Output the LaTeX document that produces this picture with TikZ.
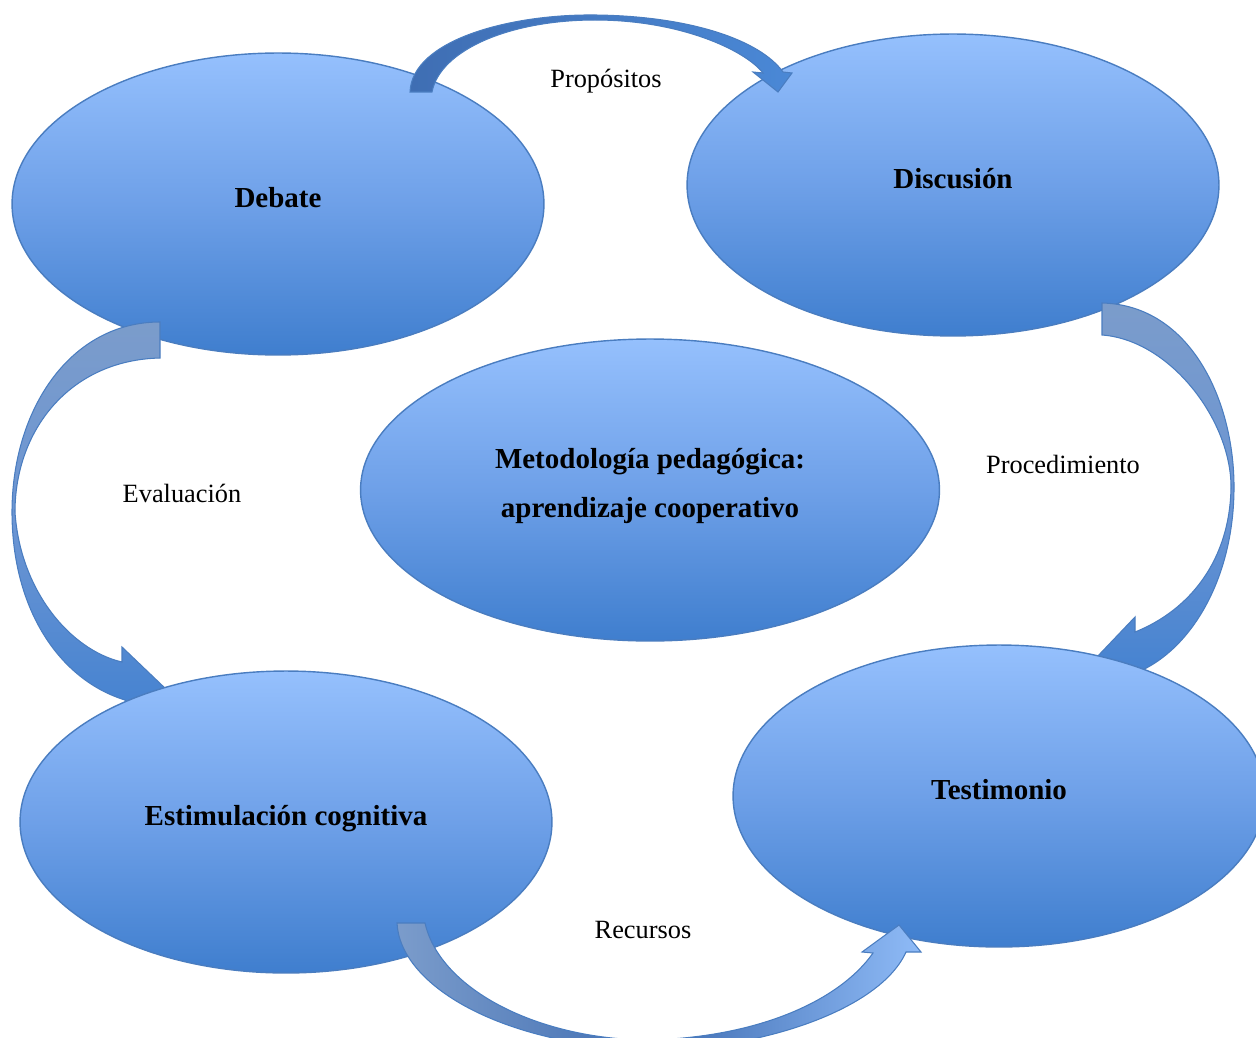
\documentclass[tikz,border=0pt]{standalone}
\usepackage{fontspec}
\setmainfont{Liberation Serif}
\usetikzlibrary{shapes.geometric}
\definecolor{ellTop}{HTML}{95C0FD}
\definecolor{ellMid}{HTML}{6EA0E8}
\definecolor{ellBot}{HTML}{3F7ECE}
\definecolor{edge}{HTML}{4A7DC0}
\definecolor{sideTop}{HTML}{7B9CCB}
\definecolor{sideMid}{HTML}{6B95D3}
\definecolor{sideBot}{HTML}{4080D0}
\definecolor{botMid}{HTML}{3F6DB2}
\definecolor{botRight}{HTML}{8FBBF7}
\definecolor{topLeft}{HTML}{3F6EB3}
\definecolor{topRight}{HTML}{4A88D6}
\tikzset{
  bubble/.style={ellipse, draw=edge, line width=0.8pt, top color=ellTop, bottom color=ellBot, middle color=ellMid, minimum width=10.64cm, minimum height=6.04cm, inner sep=0pt},
  bigbubble/.style={bubble, minimum width=11.58cm},
  title/.style={font=\fontsize{16.5}{28.35}\selectfont\bfseries, align=center, inner sep=0pt},
  lab/.style={font=\fontsize{15}{18}\selectfont, inner sep=0pt},
  band/.style={draw=edge, line width=0.6pt}
}
\begin{document}
\begin{tikzpicture}[x=0.02cm, y=0.02cm]
\useasboundingbox (0,0) rectangle (1256,-1037);
\clip (0,0) rectangle (1256,-1037);

% upper and central bubbles
\node[bubble] (debate) at (278,-204) {};
\node[bubble] (discusion) at (953,-185) {};
\node[bigbubble] (metodo) at (650,-490) {};

% left curved arrow (Evaluacion)
\path[band, top color=sideTop, bottom color=sideBot, middle color=sideMid]
  (160,-322) .. controls (70,-322) and (12,-410) .. (12,-512)
  .. controls (12,-610) and (60,-680) .. (125,-700)
  -- (128,-735) -- (190,-712) -- (122,-647) -- (122,-662)
  .. controls (70,-650) and (20,-590) .. (15,-512)
  .. controls (15,-430) and (70,-360) .. (160,-358) -- cycle;

% right curved arrow (Procedimiento)
\path[band, top color=sideTop, bottom color=sideBot, middle color=sideMid]
  (1102,-303) .. controls (1190,-305) and (1234,-400) .. (1234,-487)
  .. controls (1234,-580) and (1190,-650) .. (1138,-672)
  -- (1140,-700) -- (1075,-680) -- (1135,-617) -- (1135,-632)
  .. controls (1190,-610) and (1230,-560) .. (1231,-487)
  .. controls (1231,-420) and (1170,-340) .. (1102,-335) -- cycle;

% lower bubbles
\node[bubble] (estimulacion) at (286,-822) {};
\node[bubble] (testimonio) at (999,-796) {};

% top curved arrow (Propositos)
\path[band, left color=topLeft, right color=topRight]
  (410,-92) .. controls (412,-40) and (510,-14) .. (595,-15)
  .. controls (690,-16) and (760,-40) .. (783,-72)
  -- (792,-73) -- (778,-92) -- (753,-72) -- (763,-73)
  .. controls (745,-50) and (680,-20) .. (595,-20)
  .. controls (510,-20) and (440,-50) .. (432,-92) -- cycle;

% bottom curved arrow (Recursos)
\path[band, left color=sideTop, right color=botRight, middle color=botMid]
  (397,-923) .. controls (400,-985) and (500,-1045) .. (650,-1050)
  .. controls (760,-1050) and (880,-1010) .. (906,-952)
  -- (921,-952) -- (899,-925) -- (862,-952) -- (873,-953)
  .. controls (840,-1000) and (760,-1037) .. (650,-1040)
  .. controls (540,-1040) and (440,-990) .. (425,-923) -- cycle;

% texts
\node[title] (t-debate) at (278,-198) {Debate};
\node[title] (t-discusion) at (953,-179) {Discusión};
\node[title] (t-metodo) at (650,-486) {Metodología pedagógica:\\aprendizaje cooperativo};
\node[title] (t-estimulacion) at (286,-819) {Estimulación cognitiva};
\node[title] (t-testimonio) at (999,-790) {Testimonio};

\node[lab] (l-propositos) at (606,-81) {Propósitos};
\node[lab] (l-evaluacion) at (182,-493) {Evaluación};
\node[lab] (l-procedimiento) at (1063,-464) {Procedimiento};
\node[lab] (l-recursos) at (643,-930) {Recursos};
\end{tikzpicture}
\end{document}
